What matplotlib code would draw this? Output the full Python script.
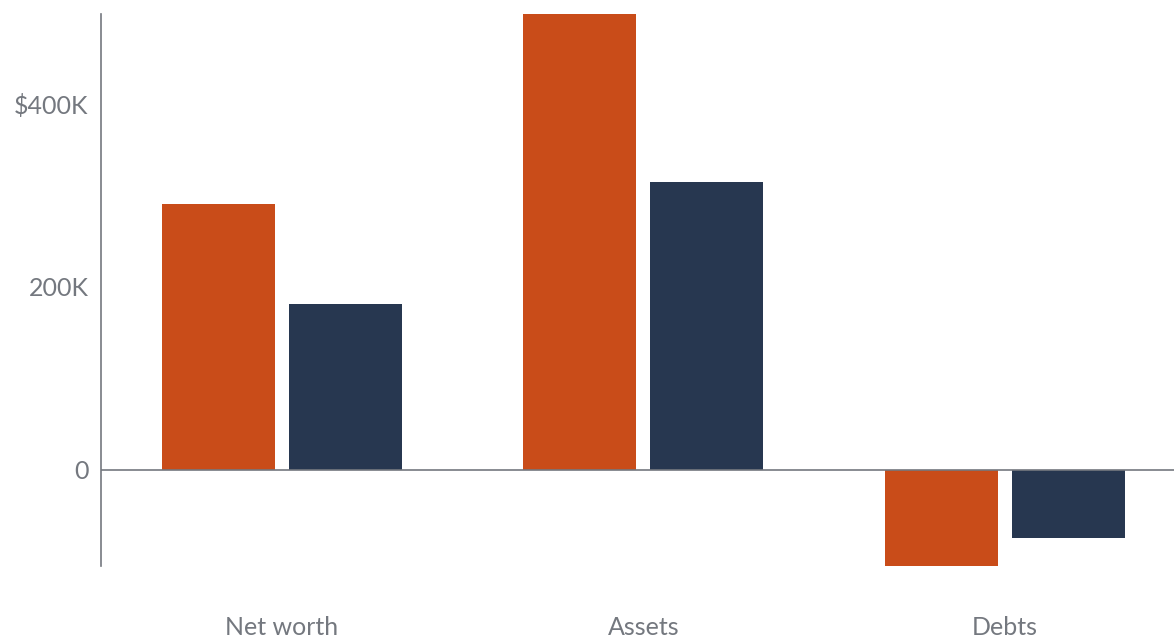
import matplotlib
matplotlib.use("Agg")
import matplotlib.pyplot as plt
import numpy as np

# categories and values in thousands of dollars
categories = ["Net worth", "Assets", "Debts"]
series_a = [290, 498, -105]
series_b = [181, 314, -74]
tick_values = [0, 200, 400]
tick_labels = ["0", "200K", "$400K"]

orange = "#C94C19"
navy = "#273750"
gray = "#74787F"

plt.rcParams["font.family"] = ["Lato", "DejaVu Sans"]

fig = plt.figure(figsize=(11.74, 6.38), dpi=100)
ax = fig.add_axes([101 / 1174, 1 - 566 / 638, 1 - 101 / 1174, (566 - 14) / 638])

x = np.arange(len(categories))
w = 0.3126
gap = 0.0387
ax.bar(x - (w + gap) / 2, series_a, width=w, color=orange)
ax.bar(x + (w + gap) / 2, series_b, width=w, color=navy)

ax.axhline(0, color=gray, lw=1.2)
ax.set_xlim(-0.5, 2.468)
ax.set_ylim(-105, 498)

ax.set_yticks(tick_values)
ax.set_yticklabels(tick_labels)
ax.set_xticks(x)
ax.set_xticklabels(categories)
ax.tick_params(axis="y", length=0, pad=9, labelsize=18, labelcolor=gray)
ax.tick_params(axis="x", length=0, pad=36, labelsize=18, labelcolor=gray)

for s in ["top", "right", "bottom"]:
    ax.spines[s].set_visible(False)
ax.spines["left"].set_color(gray)
ax.spines["left"].set_linewidth(1.2)

fig.savefig("out.png", dpi=100)
